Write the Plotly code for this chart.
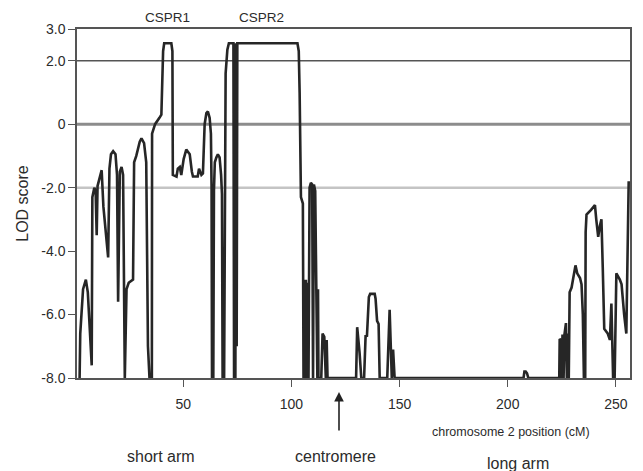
import plotly.graph_objects as go

# chromosome 2 position (cM)
position_cm = [
    2.1, 2.4, 3.7, 5.0, 5.9, 7.7, 8.0, 8.9, 9.5, 10.0, 10.4, 11.3, 12.3, 13.1, 14.6, 15.3,
    15.9, 16.6, 17.6, 18.7, 19.4, 19.9, 20.7, 21.5, 22.2, 23.0, 23.8, 24.8, 26.8, 27.3,
    28.3, 29.9, 30.7, 31.9, 32.9, 33.7, 34.4, 35.5, 35.6, 37.0, 39.0, 39.9, 40.7, 41.2,
    44.5, 45.0, 45.2, 46.9, 47.5, 48.4, 49.1, 50.2, 51.4, 53.0, 54.0, 54.5, 56.7, 57.3,
    58.4, 59.1, 59.9, 60.7, 61.4, 62.2, 62.8, 63.1, 63.3, 63.9, 64.2, 64.6, 65.3, 66.0,
    66.8, 67.5, 67.9, 68.2, 68.9, 69.3, 69.6, 70.4, 71.1, 73.2, 73.5, 74.1, 74.4, 74.7,
    75.0, 102.8, 103.4, 103.8, 104.0, 104.2, 104.4, 105.3, 105.6, 106.0, 106.3, 106.7,
    107.1, 107.4, 107.9, 108.4, 108.7, 109.0, 109.6, 110.0, 110.4, 111.0, 111.5, 112.0,
    112.3, 112.5, 113.8, 114.4, 115.2, 115.9, 116.3, 116.7, 129.9, 130.4, 131.5, 132.3,
    133.6, 134.3, 134.9, 135.8, 136.4, 138.5, 138.9, 139.6, 140.3, 140.8, 144.3, 144.9,
    145.4, 146.4, 147.0, 147.7, 207.3, 207.7, 208.3, 208.9, 209.5, 223.8, 224.0, 224.6,
    224.9, 225.3, 225.8, 226.2, 226.9, 227.3, 227.8, 228.2, 228.6, 229.5, 230.4, 231.3,
    232.1, 233.4, 234.1, 234.7, 235.2, 235.8, 236.0, 236.4, 238.5, 240.3, 240.9, 241.8,
    242.6, 243.3, 243.9, 244.6, 246.2, 247.2, 247.9, 248.4, 248.7, 249.4, 250.2, 251.8,
    252.6, 253.8, 254.8, 255.9,
]

# LOD score at each position
lod_score = [
    -8.0, -6.6, -5.2, -4.9, -5.3, -7.6, -2.3, -2.0, -2.1, -3.5, -1.95, -1.7, -1.45, -2.6, -3.6, -4.2,
    -1.4, -0.95, -0.85, -0.95, -1.6, -5.6, -1.5, -1.35, -1.6, -8.0, -5.2, -5.0, -4.9, -1.2,
    -1.0, -0.55, -0.45, -0.6, -1.2, -7.0, -8.0, -8.0, -0.3, 0.0, 0.2, 0.3, 2.3, 2.55,
    2.55, 2.3, -1.6, -1.65, -1.4, -1.35, -1.6, -1.1, -0.8, -0.95, -1.5, -1.65, -1.65, -1.4,
    -1.6, -1.55, 0.0, 0.35, 0.4, 0.2, -0.3, -2.0, -8.0, -8.0, -2.1, -1.2, -1.05, -0.95,
    -1.05, -1.6, -2.2, -8.0, -8.0, -2.0, 1.6, 2.35, 2.55, 2.55, -8.0, -8.0, 2.55, -7.0,
    2.55, 2.55, 2.3, 1.0, -0.05, -1.6, -2.3, -2.5, -8.0, -4.9, -8.0, -4.9,
    -8.0, -5.0, -8.0, -2.0, -1.85, -1.85, -1.9, -8.0, -1.9, -2.1, -5.1, -8.0,
    -5.2, -8.0, -8.0, -6.6, -6.7, -8.0, -6.8, -8.0, -8.0, -6.4, -7.2, -8.0,
    -8.0, -6.65, -6.7, -5.45, -5.35, -5.35, -5.5, -6.2, -6.3, -8.0, -8.0, -6.5,
    -5.85, -8.0, -7.1, -8.0, -8.0, -7.8, -7.8, -7.85, -8.0, -8.0, -6.77, -6.8,
    -8.0, -6.63, -8.0, -6.63, -6.27, -8.0, -6.6, -8.0, -5.3, -5.15, -4.8, -4.45,
    -4.7, -4.85, -5.05, -6.0, -8.0, -8.0, -3.4, -2.85, -2.7, -2.55, -3.0, -3.55,
    -3.2, -3.0, -4.5, -6.45, -6.6, -6.8, -5.65, -7.0, -8.0, -8.0, -4.7, -4.9,
    -5.05, -6.0, -6.6, -1.8,
]

x_ticks = [50, 100, 150, 200, 250]
y_ticks = [3, 2, 0, -2, -4, -6, -8]
y_tick_text = ["3.0", "2.0", "0", "-2.0", "-4.0", "-6.0", "-8.0"]

reference_lines = [2, 0, -2]
reference_colors = ["#555555", "#8c8c8c", "#c4c4c4"]
reference_widths = [1.5, 3, 2.5]

centromere_cm = 122

FONT = "Liberation Sans, Arial, sans-serif"
TXT = "#2b2b2b"

fig = go.Figure()
fig.add_trace(go.Scatter(
    x=position_cm, y=lod_score, mode="lines",
    line=dict(color="#262626", width=2.6),
    hoverinfo="skip", showlegend=False,
))

for yv, c, w in zip(reference_lines, reference_colors, reference_widths):
    fig.add_shape(type="line", xref="paper", x0=0, x1=1, yref="y", y0=yv, y1=yv,
                  line=dict(color=c, width=w), layer="below")

# page body has an 8px default margin: figure is sized so the plot lands in place
fig.update_layout(
    width=635, height=463,
    margin=dict(l=69, r=11, t=21, b=93),
    paper_bgcolor="white", plot_bgcolor="white",
    font=dict(family=FONT, color=TXT, size=14),
    xaxis=dict(range=[0.9, 256.5], tickvals=x_ticks, ticks="outside", ticklen=7,
               tickwidth=1.2, tickcolor="#555", showline=True, linecolor="#555",
               linewidth=1.5, mirror=True, showgrid=False, zeroline=False,
               tickfont=dict(size=14, color=TXT), ticklabelstandoff=5),
    yaxis=dict(range=[-8, 3], tickvals=y_ticks, ticktext=y_tick_text, ticks="outside",
               ticklen=7, tickwidth=1.2, tickcolor="#555", showline=True,
               linecolor="#555", linewidth=1.5, mirror=True, showgrid=False,
               zeroline=False, tickfont=dict(size=14, color=TXT)),
)

def ann(text, x, y, size, **kw):
    fig.add_annotation(text=text, x=x, y=y, xref="paper", yref="paper",
                       showarrow=False, font=dict(size=size, color=TXT, family=FONT),
                       xanchor="center", yanchor="middle", **kw)

ann("CSPR1", 0.164, 1.034, 13.5)
ann("CSPR2", 0.333, 1.034, 13.5)
ann("LOD score", -0.099, 0.50, 16, textangle=-90)
ann("chromosome 2 position (cM)", 0.784, -0.155, 12.5)
ann("short arm", 0.151, -0.226, 16)
ann("centromere", 0.468, -0.226, 16)
ann("long arm", 0.798, -0.2436, 16)

fig.add_annotation(x=centromere_cm, y=-0.04, xref="x", yref="paper", text="",
                   showarrow=True, arrowhead=2, arrowsize=1.2, arrowwidth=1.6,
                   arrowcolor="#222", ax=0, ay=40)

fig.write_html("out.html")
